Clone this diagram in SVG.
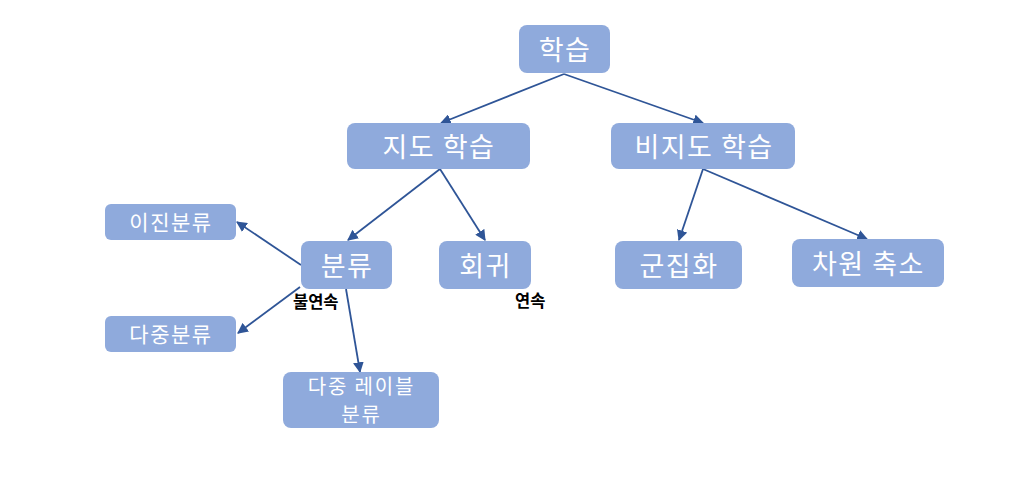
<svg xmlns="http://www.w3.org/2000/svg" width="1025" height="491" viewBox="0 0 1025 491">
<style>
.box{fill:#8faadc;}
.t{font-family:"Noto Sans CJK KR","Noto Sans",sans-serif;fill:#ffffff;text-anchor:middle;dominant-baseline:central;}
.big{font-size:27px;letter-spacing:1.5px;}
.sm{font-size:21px;letter-spacing:1.5px;}
.ml{font-size:20px;letter-spacing:1.8px;}
.lbl{font-family:"Noto Sans CJK KR","Noto Sans",sans-serif;font-size:16.5px;font-weight:bold;fill:#000000;}
.c{stroke:#2f5597;stroke-width:1.8;fill:none;marker-end:url(#ah);}
</style>
<defs>
<marker id="ah" viewBox="0 0 10 10" refX="9" refY="5" markerWidth="6" markerHeight="6" markerUnits="strokeWidth" orient="auto">
<path d="M0,0 L10,5 L0,10 z" fill="#2f5597"/>
</marker>
</defs>
<rect width="1025" height="491" fill="#ffffff"/>
<g id="connectors">
<line class="c" x1="564" y1="74" x2="441" y2="123"/>
<line class="c" x1="564" y1="74" x2="703" y2="123"/>
<line class="c" x1="440" y1="169" x2="348" y2="240"/>
<line class="c" x1="440" y1="169" x2="485" y2="240"/>
<line class="c" x1="703" y1="169" x2="679" y2="240"/>
<line class="c" x1="703" y1="169" x2="867" y2="239"/>
<line class="c" x1="301" y1="265" x2="237" y2="222"/>
<line class="c" x1="300" y1="287" x2="238" y2="333"/>
<line class="c" x1="346" y1="289" x2="360" y2="372"/>
</g>
<g id="n-learning"><rect class="box" x="519" y="25" width="91" height="48" rx="8"/><text class="t big" x="565" y="48">학습</text></g>
<g id="n-supervised"><rect class="box" x="347" y="123" width="183" height="46" rx="8"/><text class="t big" x="439" y="145">지도 학습</text></g>
<g id="n-unsupervised"><rect class="box" x="611" y="123" width="184" height="46" rx="8"/><text class="t big" x="704" y="145">비지도 학습</text></g>
<g id="n-binary"><rect class="box" x="105" y="204" width="131" height="36" rx="6"/><text class="t sm" x="171" y="221">이진분류</text></g>
<g id="n-classification"><rect class="box" x="301" y="241" width="91" height="48" rx="8"/><text class="t big" x="347" y="264">분류</text></g>
<g id="n-regression"><rect class="box" x="439" y="241" width="92" height="48" rx="8"/><text class="t big" x="485.5" y="264">회귀</text></g>
<g id="n-clustering"><rect class="box" x="615" y="241" width="127" height="48" rx="8"/><text class="t big" x="679" y="264">군집화</text></g>
<g id="n-dimred"><rect class="box" x="792" y="239" width="152" height="48" rx="8"/><text class="t big" x="868.5" y="262">차원 축소</text></g>
<g id="n-multiclass"><rect class="box" x="105" y="316" width="131" height="36" rx="6"/><text class="t sm" x="171" y="333">다중분류</text></g>
<g id="n-multilabel"><rect class="box" x="283" y="372" width="156" height="56" rx="8"/><text class="t ml" x="361.5" y="385">다중 레이블</text><text class="t ml" x="361.5" y="413">분류</text></g>
<g id="labels">
<text class="lbl" x="293" y="308">불연속</text>
<text class="lbl" x="515" y="307">연속</text>
</g>
</svg>
